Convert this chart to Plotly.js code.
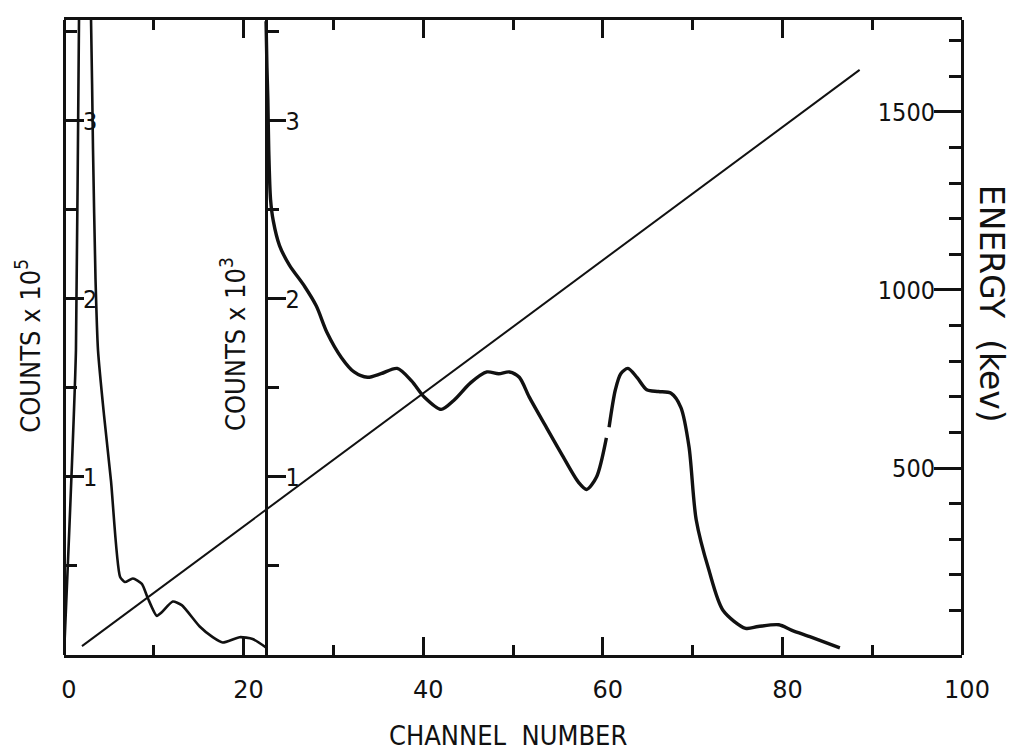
<!DOCTYPE html>
<html>
<head>
<meta charset="utf-8">
<script src="https://cdn.plot.ly/plotly-3.0.1.min.js"></script>
<style>
html,body{margin:0;padding:0;background:#ffffff;}
#chart{width:1012px;height:755px;}
</style>
</head>
<body>
<div id="chart"></div>
<script>
// Wide spectrum (counts x 10^5) versus channel number
const wideChannel = [0, 1.33, 1.67, 2.35, 3.01, 3.23, 3.51, 3.79, 4.45, 5.23, 6.24, 6.78, 7.67, 8.67, 9.33, 10.33, 10.89, 12.11, 13.11, 15.11, 16.56, 17.67, 19.56, 21.0, 22.56];
const wideCounts  = [0, 1.71, 3.57, 4.6, 3.57, 2.84, 2.11, 1.71, 1.35, 0.98, 0.44, 0.41, 0.43, 0.40, 0.32, 0.22, 0.24, 0.30, 0.28, 0.16, 0.10, 0.07, 0.10, 0.09, 0.04];

// Detail spectrum (counts x 10^3) versus channel number (null = break in the trace)
const detailChannel = [22.5, 22.6, 22.7, 22.8, 23.0, 23.3, 24.0, 25.1, 26.8, 28.1, 29.3, 30.9, 32.3, 33.8, 35.3, 37.1, 38.7, 40.1, 42.0, 43.4, 45.3, 47.1, 48.4, 49.6, 50.7, 51.8, 53.7, 55.4, 57.3, 58.2, 59.3, 60.4, 60.5, 60.7, 61.4, 62.0, 62.8, 63.8, 64.9, 66.2, 67.6, 68.7, 69.6, 70.4, 71.8, 73.4, 75.9, 77.3, 79.6, 81.0, 83.2, 86.4];
const detailCounts  = [3.56, 3.30, 3.12, 2.84, 2.56, 2.44, 2.30, 2.19, 2.07, 1.96, 1.81, 1.67, 1.59, 1.56, 1.58, 1.61, 1.54, 1.45, 1.38, 1.43, 1.53, 1.59, 1.58, 1.59, 1.56, 1.45, 1.28, 1.13, 0.97, 0.93, 1.00, 1.22, null, 1.28, 1.49, 1.58, 1.61, 1.56, 1.49, 1.48, 1.47, 1.39, 1.17, 0.76, 0.48, 0.25, 0.15, 0.16, 0.17, 0.14, 0.10, 0.04];

// Energy calibration line (keV) versus channel number
const calibChannel = [2.0, 88.6];
const calibEnergy  = [0, 1618];

// Tick labels
const channelTicks = [0, 20, 40, 60, 80, 100];
const channelTickText = ['0', '20', '40', '60', '80', '100'];
const channelMinorTicks = [10, 30, 50, 70, 90];
const countTicks = [1, 2, 3];
const countTickText = ['1', '2', '3'];
const countMinorTicks = [0.5, 1.5, 2.5, 3.5];
const energyTicks = [500, 1000, 1500];
const energyTickText = ['500', '1000', '1500'];
const energyMinorTicks = [100, 200, 300, 400, 600, 700, 800, 900, 1100, 1200, 1300, 1400, 1600, 1700];

const INK = '#111111';
const numFont = {family: '"DejaVu Sans Condensed", "DejaVu Sans", sans-serif', size: 25, color: INK};
const titleFont = {family: '"DejaVu Sans Condensed", "DejaVu Sans", sans-serif', size: 27, color: INK};

const traces = [
  {x: wideChannel, y: wideCounts, yaxis: 'y', type: 'scatter', mode: 'lines',
   line: {color: INK, width: 2.6, shape: 'spline', smoothing: 0.6}, hoverinfo: 'skip'},
  {x: detailChannel, y: detailCounts, yaxis: 'y2', type: 'scatter', mode: 'lines', connectgaps: false,
   line: {color: INK, width: 3.4, shape: 'spline', smoothing: 0.8}, hoverinfo: 'skip'},
  {x: calibChannel, y: calibEnergy, yaxis: 'y3', type: 'scatter', mode: 'lines',
   line: {color: INK, width: 2}, hoverinfo: 'skip'}
];

// Count axes are drawn as right-facing axes placed on the left edge / inner position,
// so their ticks and labels sit inside the plotting area as in the original figure.
function countAxis(extra) {
  return Object.assign({
    range: [0, 3.567], showline: true, linewidth: 3, linecolor: INK,
    anchor: 'free', side: 'right',
    ticks: 'outside', ticklen: 18, tickwidth: 3, tickcolor: INK,
    tickmode: 'array', tickvals: countTicks, ticktext: countTickText,
    tickfont: numFont, ticklabelstandoff: -6,
    minor: {tickmode: 'array', tickvals: countMinorTicks, ticks: 'outside', ticklen: 11, tickwidth: 3, tickcolor: INK},
    showgrid: false, zeroline: false, fixedrange: true
  }, extra);
}

const layout = {
  width: 1012, height: 755,
  margin: {l: 64, r: 50, t: 20, b: 100},
  paper_bgcolor: '#ffffff', plot_bgcolor: '#ffffff',
  showlegend: false,
  xaxis: {
    range: [0, 100], showline: true, linewidth: 3, linecolor: INK, mirror: 'ticks',
    ticks: 'inside', ticklen: 18, tickwidth: 3, tickcolor: INK,
    tickmode: 'array', tickvals: channelTicks, ticktext: channelTickText,
    tickfont: {family: '"DejaVu Sans", sans-serif', size: 24, color: INK},
    ticklabelstandoff: 11, ticklabelshift: 5,
    minor: {tickmode: 'array', tickvals: channelMinorTicks, ticks: 'inside', ticklen: 10, tickwidth: 3, tickcolor: INK},
    showgrid: false, zeroline: false, fixedrange: true
  },
  yaxis: countAxis({position: 0}),
  yaxis2: countAxis({overlaying: 'y', position: 0.2255}),
  yaxis3: {
    overlaying: 'y', anchor: 'free', position: 1, side: 'left',
    range: [-25, 1758], showline: true, linewidth: 3, linecolor: INK,
    ticks: 'outside', ticklen: 27, tickwidth: 3, tickcolor: INK,
    tickmode: 'array', tickvals: energyTicks, ticktext: energyTickText,
    tickfont: numFont, ticklabelstandoff: -6,
    minor: {tickmode: 'array', tickvals: energyMinorTicks, ticks: 'outside', ticklen: 12, tickwidth: 3, tickcolor: INK},
    showgrid: false, zeroline: false, fixedrange: true
  },
  annotations: [
    {text: 'CHANNEL\u00a0 NUMBER', xref: 'paper', yref: 'paper', x: 0.4939, y: -0.126,
     xanchor: 'center', yanchor: 'middle', showarrow: false, font: titleFont},
    {text: 'COUNTS x 10<sup>5</sup>', xref: 'paper', yref: 'paper', x: -0.0401, y: 0.487,
     xanchor: 'center', yanchor: 'middle', textangle: -90, showarrow: false, font: titleFont},
    {text: 'COUNTS x 10<sup>3</sup>', xref: 'paper', yref: 'paper', x: 0.1884, y: 0.49,
     xanchor: 'center', yanchor: 'middle', textangle: -90, showarrow: false, font: titleFont},
    {text: 'ENERGY\u00a0 (kev)', xref: 'paper', yref: 'paper', x: 1.0323, y: 0.553,
     xanchor: 'center', yanchor: 'middle', textangle: 90, showarrow: false,
     font: {family: '"DejaVu Sans", sans-serif', size: 33, color: INK}}
  ]
};

Plotly.newPlot('chart', traces, layout, {staticPlot: true, displayModeBar: false});
</script>
</body>
</html>
